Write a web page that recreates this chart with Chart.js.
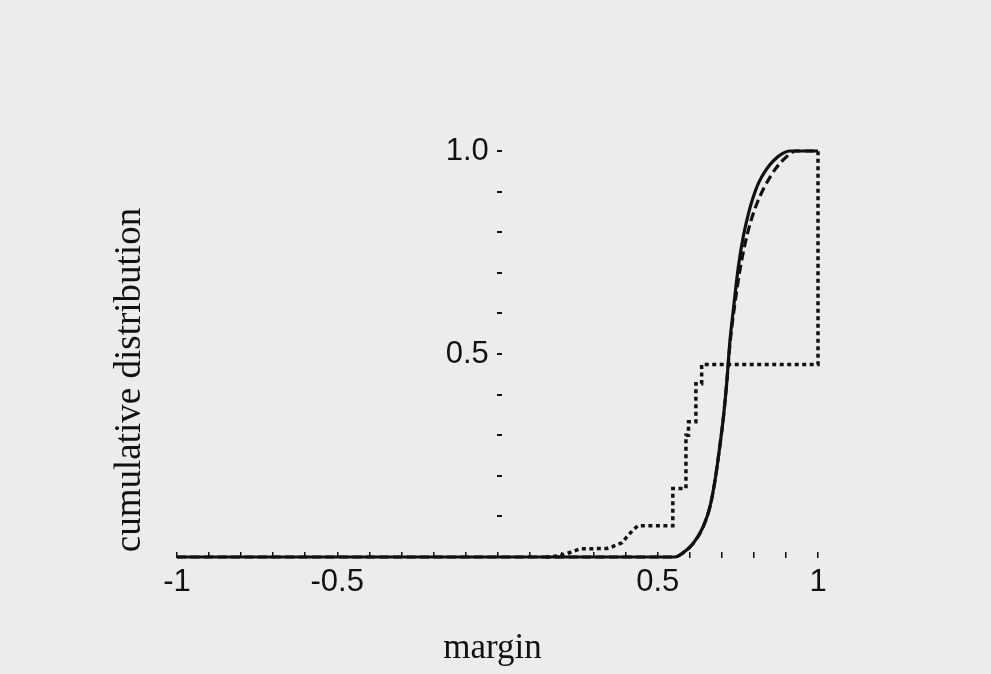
<!DOCTYPE html>
<html>
<head>
<meta charset="utf-8">
<title>cumulative distribution of margins</title>
<script src="https://cdn.jsdelivr.net/npm/chart.js@4/dist/chart.umd.min.js"></script>
<style>
    html, body { margin: 0; padding: 0; background: #ececec; }
    canvas { display: block; }
</style>
</head>
<body>
<canvas id="marginChart" width="991" height="674"></canvas>
<script>
// Solid curve (x = margin, y = cumulative fraction)
const solidX = [-1, 0.554, 0.575, 0.611, 0.642, 0.663, 0.679, 0.692, 0.705, 0.715, 0.725, 0.736, 0.751, 0.767, 0.783, 0.797, 0.815, 0.84, 0.865, 0.89, 0.91, 1.0];
const solidY = [0, 0, 0.008, 0.034, 0.075, 0.124, 0.19, 0.263, 0.345, 0.427, 0.53, 0.61, 0.712, 0.79, 0.846, 0.884, 0.922, 0.956, 0.979, 0.994, 1.0, 1.0];

// Dashed curve
const dashedX = [-1, 0.554, 0.575, 0.611, 0.642, 0.663, 0.679, 0.692, 0.705, 0.715, 0.726, 0.740, 0.755, 0.772, 0.79, 0.81, 0.83, 0.85, 0.871, 0.902, 0.93, 1.0];
const dashedY = [0, 0, 0.008, 0.034, 0.075, 0.124, 0.19, 0.263, 0.345, 0.427, 0.53, 0.62, 0.70, 0.77, 0.826, 0.872, 0.907, 0.935, 0.96, 0.986, 1.0, 1.0];

// Dotted staircase (vertices, vertical jumps repeat the x value)
const dottedX = [0.15, 0.195, 0.226, 0.257, 0.341, 0.357, 0.388, 0.404, 0.42, 0.438, 0.547, 0.547, 0.588, 0.588, 0.596, 0.596, 0.619, 0.619, 0.637, 0.637, 1.0, 1.0];
const dottedY = [0, 0.003, 0.011, 0.020, 0.021, 0.025, 0.035, 0.050, 0.064, 0.077, 0.077, 0.169, 0.169, 0.30, 0.30, 0.333, 0.333, 0.427, 0.427, 0.474, 0.474, 1.0];

// Labelled ticks
const xTickValues = [-1, -0.5, 0.5, 1];
const xTickText = ['-1', '-0.5', '0.5', '1'];
const yTickValues = [0.5, 1.0];
const yTickText = ['0.5', '1.0'];

const xTitle = 'margin';
const yTitle = 'cumulative distribution';

const ink = '#111111';
const tickFont = { family: '"Liberation Sans", Arial, sans-serif', size: 31 };

function toPoints(xs, ys) {
    return xs.map((x, i) => ({ x: x, y: ys[i] }));
}

function labelFor(value, values, texts) {
    const idx = values.findIndex(v => Math.abs(v - value) < 1e-6);
    return idx === -1 ? '' : texts[idx];
}

// Serif axis titles, drawn outside the scales
const axisTitles = {
    id: 'axisTitles',
    afterDraw(chart) {
        const { ctx, chartArea } = chart;
        ctx.save();
        ctx.fillStyle = ink;
        ctx.textAlign = 'center';
        ctx.textBaseline = 'alphabetic';
        ctx.font = '35px "Liberation Serif", "Times New Roman", serif';
        ctx.fillText(xTitle, (chartArea.left + chartArea.right) / 2 - 5, chartArea.bottom + 101);

        ctx.font = '37px "Liberation Serif", "Times New Roman", serif';
        ctx.translate(chartArea.left - 37, chartArea.bottom - 177);
        ctx.rotate(-Math.PI / 2);
        ctx.fillText(yTitle, 0, 0);
        ctx.restore();
    }
};

const ctx = document.getElementById('marginChart').getContext('2d');
new Chart(ctx, {
    type: 'line',
    data: {
        datasets: [
            {
                label: 'dotted',
                data: toPoints(dottedX, dottedY),
                borderColor: ink,
                borderWidth: 3.5,
                borderDash: [4, 3.5],
                tension: 0,
                pointRadius: 0,
                clip: false
            },
            {
                label: 'dashed',
                data: toPoints(dashedX, dashedY),
                borderColor: ink,
                borderWidth: 3.2,
                borderDash: [9, 4.5],
                cubicInterpolationMode: 'monotone',
                pointRadius: 0,
                clip: false
            },
            {
                label: 'solid',
                data: toPoints(solidX, solidY),
                borderColor: ink,
                borderWidth: 3.2,
                cubicInterpolationMode: 'monotone',
                pointRadius: 0,
                clip: false
            }
        ]
    },
    options: {
        responsive: false,
        animation: false,
        layout: { padding: { left: 177, right: 173, top: 151, bottom: 117 } },
        plugins: {
            legend: { display: false },
            tooltip: { enabled: false }
        },
        scales: {
            x: {
                type: 'linear',
                min: -1,
                max: 1,
                position: { y: 0.012 },
                border: { display: false },
                grid: { drawOnChartArea: false, drawTicks: true, tickLength: 6, color: ink, lineWidth: 1.5 },
                ticks: {
                    stepSize: 0.1,
                    autoSkip: false,
                    maxRotation: 0,
                    padding: 6,
                    color: ink,
                    font: tickFont,
                    callback: (value) => labelFor(value, xTickValues, xTickText)
                }
            },
            // tick marks of the vertical axis
            y: {
                type: 'linear',
                min: 0,
                max: 1,
                position: { x: 0.014 },
                border: { display: false },
                grid: { drawOnChartArea: false, drawTicks: true, tickLength: 5, color: ink, lineWidth: 2 },
                ticks: {
                    stepSize: 0.1,
                    autoSkip: false,
                    callback: () => ''
                }
            },
            // labels of the vertical axis, set just left of the marks
            yLabels: {
                type: 'linear',
                axis: 'y',
                min: 0,
                max: 1,
                position: { x: -0.027 },
                border: { display: false },
                grid: { display: false, drawTicks: false },
                ticks: {
                    stepSize: 0.1,
                    autoSkip: false,
                    padding: 0,
                    color: ink,
                    font: tickFont,
                    callback: (value) => labelFor(value, yTickValues, yTickText)
                }
            }
        }
    },
    plugins: [axisTitles]
});
</script>
</body>
</html>
